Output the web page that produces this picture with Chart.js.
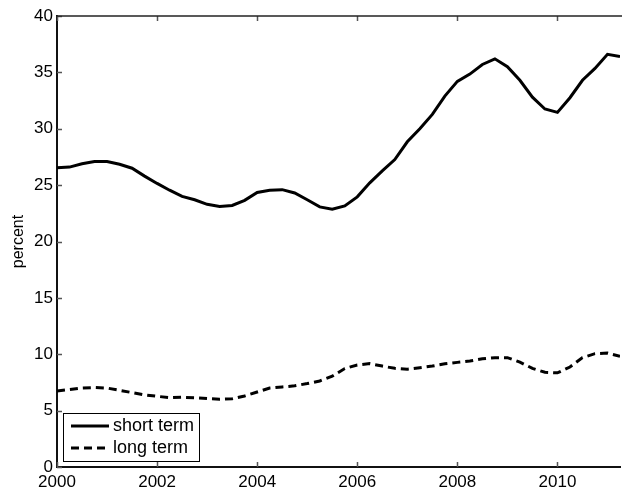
<!DOCTYPE html>
<html>
<head>
<meta charset="utf-8">
<script src="https://cdn.jsdelivr.net/npm/chart.js@4.4.1/dist/chart.umd.min.js"></script>
<style>
  html, body { margin: 0; padding: 0; background: #fff; }
  canvas { display: block; }
</style>
</head>
<body>
<canvas id="chartCanvas" width="622" height="493"></canvas>
<script>
// quarterly dates, 2000Q1 .. 2011Q2
const dates = [
    2000.00, 2000.25, 2000.50, 2000.75,
    2001.00, 2001.25, 2001.50, 2001.75,
    2002.00, 2002.25, 2002.50, 2002.75,
    2003.00, 2003.25, 2003.50, 2003.75,
    2004.00, 2004.25, 2004.50, 2004.75,
    2005.00, 2005.25, 2005.50, 2005.75,
    2006.00, 2006.25, 2006.50, 2006.75,
    2007.00, 2007.25, 2007.50, 2007.75,
    2008.00, 2008.25, 2008.50, 2008.75,
    2009.00, 2009.25, 2009.50, 2009.75,
    2010.00, 2010.25, 2010.50, 2010.75,
    2011.00, 2011.25
];

const shortTerm = [
    26.55, 26.6, 26.9, 27.1,
    27.1, 26.85, 26.5, 25.8,
    25.15, 24.55, 24.0, 23.7,
    23.3, 23.1, 23.2, 23.65,
    24.35, 24.55, 24.6, 24.3,
    23.7, 23.07, 22.87, 23.16,
    23.96, 25.2, 26.27, 27.27,
    28.84, 30.0, 31.27, 32.9,
    34.2, 34.85, 35.7, 36.2,
    35.5, 34.3, 32.8, 31.75,
    31.45, 32.75, 34.3, 35.35,
    36.6, 36.4
];

const longTerm = [
    6.75, 6.87, 7.0, 7.05,
    7.0, 6.8, 6.6, 6.4,
    6.27, 6.15, 6.18, 6.15,
    6.07, 6.0, 6.05, 6.3,
    6.65, 7.0, 7.1, 7.2,
    7.4, 7.63, 8.05, 8.73,
    9.05, 9.17, 8.95, 8.75,
    8.67, 8.8, 8.95, 9.15,
    9.28, 9.4, 9.6, 9.7,
    9.7, 9.3, 8.75, 8.4,
    8.35, 8.87, 9.7, 10.05,
    10.1, 9.82
];

const xTicks = [2000, 2002, 2004, 2006, 2008, 2010];
const yTicks = [0, 5, 10, 15, 20, 25, 30, 35, 40];

const seriesLabels = ['short term', 'long term'];

const FONT = 'Liberation Sans, Arial, Helvetica, sans-serif';

// matlab style box: top border and inward tick marks
const boxPlugin = {
    id: 'box',
    afterDatasetsDraw(c) {
        const ctx = c.ctx;
        const a = c.chartArea;
        const xs = c.scales.x, ys = c.scales.y;
        ctx.save();
        ctx.strokeStyle = '#555';
        ctx.lineWidth = 1.5;
        ctx.beginPath();
        xTicks.forEach(v => {
            const px = Math.round(xs.getPixelForValue(v)) + 0.5;
            ctx.moveTo(px, a.bottom);
            ctx.lineTo(px, a.bottom - 5);
            ctx.moveTo(px, a.top);
            ctx.lineTo(px, a.top + 5);
        });
        yTicks.forEach(v => {
            const py = Math.round(ys.getPixelForValue(v)) + 0.5;
            ctx.moveTo(a.left, py);
            ctx.lineTo(a.left + 5, py);
        });
        ctx.stroke();
        ctx.strokeStyle = '#222';
        ctx.lineWidth = 1.5;
        ctx.beginPath();
        ctx.moveTo(a.left, a.top);
        ctx.lineTo(a.right + 2, a.top);
        ctx.stroke();
        ctx.restore();
    },
    afterDraw(c) {
        // legend box in lower left corner
        const ctx = c.ctx;
        const bx = 63, by = 413, bw = 136, bh = 48;
        ctx.save();
        ctx.fillStyle = '#fff';
        ctx.fillRect(bx, by, bw, bh);
        ctx.strokeStyle = '#000';
        ctx.lineWidth = 1;
        ctx.strokeRect(bx + 0.5, by + 0.5, bw, bh);
        c.data.datasets.forEach((ds, i) => {
            const y = by + 13 + i * 22;
            ctx.strokeStyle = '#000';
            ctx.lineWidth = 3;
            ctx.setLineDash(ds.borderDash || []);
            ctx.beginPath();
            ctx.moveTo(bx + 8, y);
            ctx.lineTo(bx + 46, y);
            ctx.stroke();
            ctx.setLineDash([]);
            ctx.fillStyle = '#000';
            ctx.font = '18px ' + FONT;
            ctx.textBaseline = 'middle';
            ctx.fillText(ds.label, bx + 50, y);
        });
        ctx.restore();
    }
};

const ctx = document.getElementById('chartCanvas').getContext('2d');

const chart = new Chart(ctx, {
    type: 'line',
    data: {
        datasets: [{
            label: seriesLabels[0],
            data: dates.map((d, i) => ({ x: d, y: shortTerm[i] })),
            borderColor: '#000',
            borderWidth: 3,
            pointRadius: 0,
            tension: 0,
            fill: false
        }, {
            label: seriesLabels[1],
            data: dates.map((d, i) => ({ x: d, y: longTerm[i] })),
            borderColor: '#000',
            borderWidth: 3,
            borderDash: [8, 5],
            pointRadius: 0,
            tension: 0,
            fill: false
        }]
    },
    options: {
        responsive: false,
        animation: false,
        devicePixelRatio: 1,
        layout: { padding: { top: 16, right: 2, left: 0, bottom: 0 } },
        plugins: {
            legend: { display: false },
            tooltip: { enabled: false }
        },
        scales: {
            x: {
                type: 'linear',
                min: 2000,
                max: 2011.25,
                afterBuildTicks: s => { s.ticks = xTicks.map(v => ({ value: v })); },
                afterFit: s => { s.height = 26; },
                grid: { display: false, drawTicks: false },
                border: { display: true, color: '#111', width: 2 },
                ticks: {
                    color: '#000',
                    padding: 5,
                    maxRotation: 0,
                    font: { family: FONT, size: 17 },
                    callback: v => String(v)
                }
            },
            y: {
                min: 0,
                max: 40,
                afterBuildTicks: s => { s.ticks = yTicks.map(v => ({ value: v })); },
                afterFit: s => { s.width = 57; },
                grid: { display: false, drawTicks: false },
                border: { display: true, color: '#111', width: 2 },
                title: {
                    display: true,
                    text: 'percent',
                    color: '#000',
                    font: { family: FONT, size: 16 },
                    padding: { top: 9, bottom: 0 }
                },
                ticks: {
                    color: '#000',
                    padding: 4,
                    font: { family: FONT, size: 17 }
                }
            }
        }
    },
    plugins: [boxPlugin]
});
</script>
</body>
</html>
